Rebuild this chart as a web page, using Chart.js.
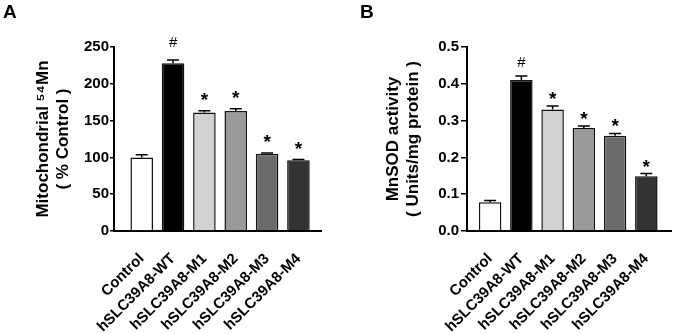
<!DOCTYPE html>
<html>
<head>
<meta charset="utf-8">
<script src="https://cdn.jsdelivr.net/npm/chart.js@4.4.1/dist/chart.umd.min.js"></script>
<style>
  html, body { margin: 0; padding: 0; background: #fff; }
  #wrap { position: relative; width: 675px; height: 334px; }
  #chartA { position: absolute; left: 0; top: 0; }
  #chartB { position: absolute; left: 337px; top: 0; }
</style>
</head>
<body>
<div id="wrap">
  <canvas id="chartA" width="337" height="334"></canvas>
  <canvas id="chartB" width="338" height="334"></canvas>
</div>
<script>
const groups = ['Control', 'hSLC39A8-WT', 'hSLC39A8-M1', 'hSLC39A8-M2', 'hSLC39A8-M3', 'hSLC39A8-M4'];
const barColors = ['#ffffff', '#000000', '#d2d2d2', '#9a9a9a', '#6b6b6b', '#333333'];
const signif = ['', '#', '*', '*', '*', '*'];

// panel A: mitochondrial 54Mn (% control)
const mnUptake = [100, 228, 161, 163, 105, 96];
const mnUptakeErr = [3.5, 4.5, 2.5, 3, 1, 1];

// panel B: MnSOD activity (units/mg protein)
const sodActivity = [0.078, 0.41, 0.33, 0.28, 0.259, 0.149];
const sodActivityErr = [0.005, 0.011, 0.01, 0.005, 0.006, 0.007];

const FONT = "'Liberation Sans', Arial, sans-serif";
Chart.defaults.font.family = FONT;
Chart.defaults.color = '#000';

// error whiskers, significance marks and the panel letter
const extras = {
  id: 'extras',
  afterDatasetsDraw(chart, args, opts) {
    const ctx = chart.ctx;
    const x = chart.scales.x, y = chart.scales.y;
    ctx.save();
    ctx.strokeStyle = '#000';
    ctx.lineWidth = 1.5;
    ctx.fillStyle = '#000';
    ctx.textAlign = 'center';
    ctx.textBaseline = 'alphabetic';
    opts.values.forEach((v, i) => {
      const px = x.getPixelForValue(i);
      const base = y.getPixelForValue(v);
      const top = y.getPixelForValue(v + opts.errors[i]);
      ctx.beginPath();
      ctx.moveTo(px, base);
      ctx.lineTo(px, top);
      ctx.moveTo(px - 6, top);
      ctx.lineTo(px + 6, top);
      ctx.stroke();
      const m = signif[i];
      if (m === '#') {
        ctx.font = '15px ' + FONT;
        ctx.fillText(m, px, top - opts.hashGap);
      } else if (m === '*') {
        ctx.font = 'bold 19px ' + FONT;
        ctx.fillText(m, px, top - opts.starGap);
      }
    });
    ctx.textAlign = 'left';
    ctx.font = 'bold 19px ' + FONT;
    ctx.fillText(opts.letter, opts.letterX, 18);
    ctx.restore();
  }
};

function makePanel(id, cfg) {
  return new Chart(document.getElementById(id), {
    type: 'bar',
    data: {
      datasets: [{
        data: cfg.values.map((v, i) => ({x: i, y: v})),
        backgroundColor: barColors,
        borderColor: '#111',
        borderWidth: 1.5,
        barPercentage: 0.72,
        categoryPercentage: 1
      }]
    },
    options: {
      responsive: false,
      animation: false,
      layout: { padding: { top: 47, right: cfg.padRight, left: 0, bottom: 0 } },
      plugins: {
        legend: { display: false },
        tooltip: { enabled: false },
        extras: {
          values: cfg.values, errors: cfg.errors, letter: cfg.letter, letterX: cfg.letterX,
          hashGap: cfg.hashGap, starGap: cfg.starGap
        }
      },
      scales: {
        x: {
          type: 'linear',
          bounds: 'data',
          offset: false,
          min: cfg.xMin,
          max: cfg.xMax,
          afterBuildTicks: (s) => { s.ticks = groups.map((g, i) => ({value: i})); },
          afterFit: (s) => { s.height = 103; s.paddingLeft = 0; s.paddingRight = 0; },
          grid: { display: false },
          border: { display: true, color: '#000', width: 2 },
          ticks: {
            autoSkip: false,
            maxRotation: 45,
            minRotation: 45,
            padding: 11,
            font: { size: 15, weight: 'bold' },
            callback: (v) => groups[v] || ''
          }
        },
        y: {
          min: 0,
          max: cfg.yMax,
          afterFit: (s) => { s.width = cfg.yWidth; },
          grid: { display: true, drawOnChartArea: false, color: '#000', lineWidth: 1.5, tickLength: cfg.tickLen },
          border: { display: true, color: '#000', width: 2 },
          ticks: {
            stepSize: cfg.yStep,
            padding: cfg.tickPad,
            font: { size: 15, weight: 'bold' },
            callback: cfg.yFormat
          },
          title: {
            display: true,
            text: cfg.yTitle,
            font: { size: 17, weight: 'bold', lineHeight: 1.2 },
            padding: { top: cfg.titlePad, bottom: 0 }
          }
        }
      }
    },
    plugins: [extras]
  });
}

makePanel('chartA', {
  values: mnUptake, errors: mnUptakeErr, letter: 'A', letterX: 3,
  xMin: -0.884, xMax: 5.72, padRight: 16, yWidth: 114,
  yMax: 250, yStep: 50, yFormat: (v) => v, tickLen: 4, tickPad: 1,
  yTitle: ['Mitochondrial \u2075\u2074Mn', '( % Control )'], titlePad: 33,
  hashGap: 13, starGap: 5
});

makePanel('chartB', {
  values: sodActivity, errors: sodActivityErr, letter: 'B', letterX: 23,
  xMin: -0.74, xMax: 5.79, padRight: 4, yWidth: 130,
  yMax: 0.5, yStep: 0.1, yFormat: (v) => v.toFixed(1), tickLen: 6, tickPad: 2,
  yTitle: ['MnSOD activity', '( Units/mg protein )'], titlePad: 46,
  hashGap: 9, starGap: 1
});
</script>
</body>
</html>
